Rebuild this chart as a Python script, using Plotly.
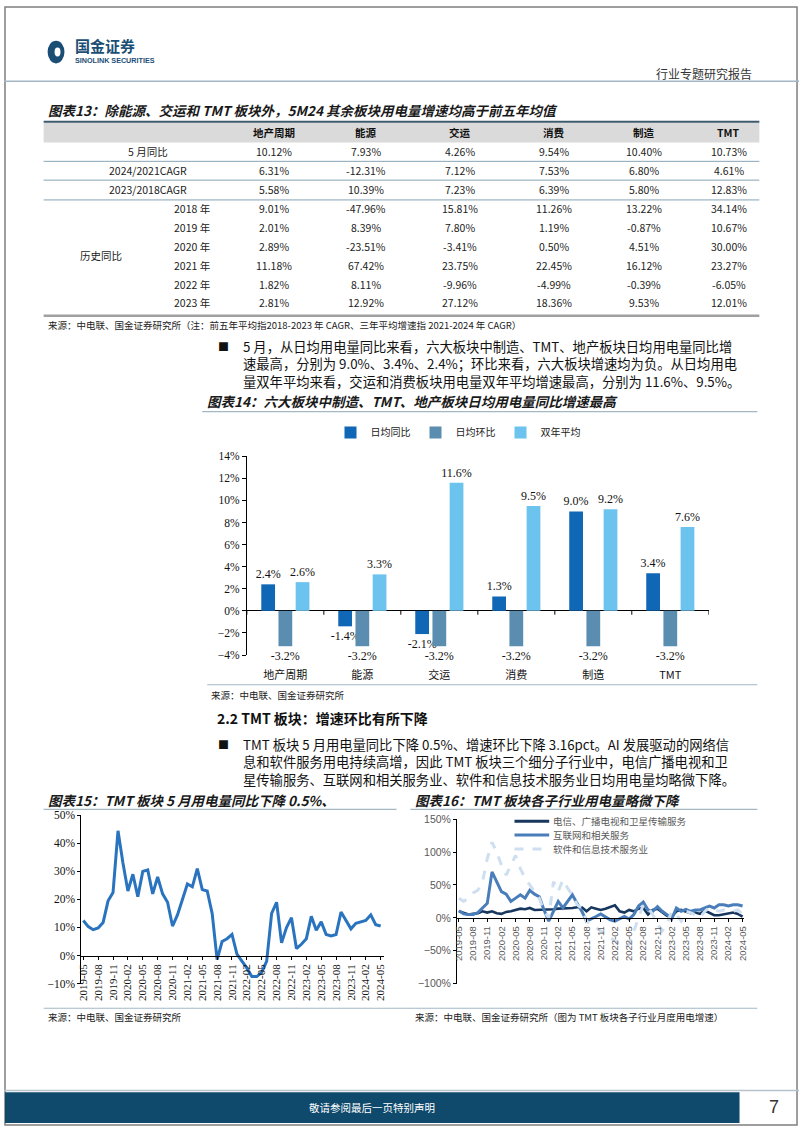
import plotly.graph_objects as go
import pandas as pd

W, H = 802, 1133
CJK = "Noto Sans CJK SC"
SERIF = "Liberation Serif"
SANS = "Liberation Sans"

# ---------------- data: table 13 ----------------
table_cols = ["地产周期", "能源", "交运", "消费", "制造", "TMT"]
row_labels_top = ["5 月同比", "2024/2021CAGR", "2023/2018CAGR"]
yoy_may = [10.12, 7.93, 4.26, 9.54, 10.40, 10.73]
cagr_24_21 = [6.31, -12.31, 7.12, 7.53, 6.80, 4.61]
cagr_23_18 = [5.58, 10.39, 7.23, 6.39, 5.80, 12.83]
hist_years = ["2018 年", "2019 年", "2020 年", "2021 年", "2022 年", "2023 年"]
hist_2018 = [9.01, -47.96, 15.81, 11.26, 13.22, 34.14]
hist_2019 = [2.01, 8.39, 7.80, 1.19, -0.87, 10.67]
hist_2020 = [2.89, -23.51, -3.41, 0.50, 4.51, 30.00]
hist_2021 = [11.18, 67.42, 23.75, 22.45, 16.12, 23.27]
hist_2022 = [1.82, 8.11, -9.96, -4.99, -0.39, -6.05]
hist_2023 = [2.81, 12.92, 27.12, 18.36, 9.53, 12.01]

# ---------------- data: chart 14 ----------------
sectors = ["地产周期", "能源", "交运", "消费", "制造", "TMT"]
daily_yoy = [2.4, -1.4, -2.1, 1.3, 9.0, 3.4]
daily_mom = [-3.2, -3.2, -3.2, -3.2, -3.2, -3.2]
two_year_avg = [2.6, 3.3, 11.6, 9.5, 9.2, 7.6]

# ---------------- data: chart 15 / 16 ----------------
months = list(pd.date_range("2019-05-01", periods=61, freq="MS").strftime("%Y-%m"))
tick_months = ["2019-05", "2019-08", "2019-11", "2020-02", "2020-05", "2020-08", "2020-11",
               "2021-02", "2021-05", "2021-08", "2021-11", "2022-02", "2022-05", "2022-08",
               "2022-11", "2023-02", "2023-05", "2023-08", "2023-11", "2024-02", "2024-05"]
tmt_yoy = [12.5, 10.3, 9.2, 9.8, 11.8, 19.5, 22.5, 44.5, 33, 23,
           29, 21, 30, 30.5, 22, 28, 22, 19, 10.5, 14.5,
           20, 25.5, 24.5, 31, 23.5, 23, 15, -1.5, 5, 6,
           7.5, 0.5, -2, -4.5, -7.5, -7.5, -6, -2, 15, 19,
           4.5, 10, 13.5, 2.5, 4, 6, 14, 9, 12, 7.5,
           7, 7.5, 15.5, 12.5, 9.5, 11.5, 12, 12.5, 14.5, 11,
           10.5]
telecom = [10, 7, 5, 6, 7, 10, 8, 10, 7, 6,
           9, 10, 12, 14, 13, 15, 12, 12, 12, 13,
           13, 14, 14, 15, 15, 16, 16, 10, 16, 14,
           12, 14, 17, 19, 10, 8, 12, 10, 14, 15,
           5, 12, 14, 8, 3, 2, 10, 12, 10, 7,
           8, 6, 11, 8, 4, 4, 5, 6, 8, 6,
           2]
internet = [11, 6, 5, 5, 8, 15, 22, 70, 55, 40,
            36, 25, 30, 35, 30, 42, 36, 32, 12, -5,
            10, 25, 15, 25, 35, 22, 10, -5, -2, 2,
            6, 2, -3, -5, -1, 2, -2, 5, 18, 24,
            12, 10, 17, 10, 5, -2, 15, 10, 13, 10,
            12, 12, 15, 18, 15, 20, 20, 18, 20, 20,
            18]
software = [30, 25, 30, 38, 42, 55, 90, 115, 100, 80,
            65, 80, 95, 75, 60, 50, 40, 30, 10, 0,
            55, 40, 58, 45, 35, 20, 15, -5, -10, -15,
            -20, -25, -30, -35, -40, -45, -40, -20, 0, 20,
            15, 5, -10, -20, -10, 10, 5, -5, 10, 8,
            5, 0, 10, 15, 12, 10, 12, 12, 10, 12,
            5]
sub_names = ["电信、广播电视和卫星传输服务", "互联网和相关服务", "软件和信息技术服务业"]

# ---------------- styles ----------------
C_YOY, C_MOM, C_AVG = "#0f67b5", "#5b8db0", "#6cc3ee"
C_LINE15 = "#2a74bf"
C_TEL, C_INT, C_SW = "#17375e", "#4a7ebb", "#cddff1"
NAVY = "#1b4e75"
RULE = "#a3b7c4"

ann = []
shapes = []


def T(x, y, s, size=11, color="#222", xa="left", ya="middle", fam=CJK, weight="normal",
      style="normal", bp=1):
    ann.append(dict(x=x / W, y=1 - y / H, xref="paper", yref="paper", text=s, showarrow=False,
                    xanchor=xa, yanchor=ya, borderpad=bp, align="left",
                    font=dict(family=fam, size=size, color=color, weight=weight, style=style)))


def L(x0, y0, x1, y1, color, width=1, dash="solid"):
    shapes.append(dict(type="line", xref="paper", yref="paper", x0=x0 / W, x1=x1 / W,
                       y0=1 - y0 / H, y1=1 - y1 / H, line=dict(color=color, width=width, dash=dash)))


def R(x0, y0, x1, y1, fill, line=None, lw=0):
    shapes.append(dict(type="rect", xref="paper", yref="paper", x0=x0 / W, x1=x1 / W,
                       y0=1 - y1 / H, y1=1 - y0 / H, fillcolor=fill,
                       line=dict(color=line or fill, width=lw), layer="below"))


def pct(v):
    return f"{v:.2f}%"


# ---------------- page frame / header ----------------
R(1, 1, 800, 1131, "rgba(0,0,0,0)", "#7f7f7f", 1.5)
shapes.append(dict(type="circle", xref="paper", yref="paper", x0=44 / W, x1=61 / W,
                   y0=1 - 58 / H, y1=1 - 35 / H, fillcolor=NAVY, line=dict(color=NAVY, width=0)))
shapes.append(dict(type="circle", xref="paper", yref="paper", x0=51 / W, x1=57 / W,
                   y0=1 - 51 / H, y1=1 - 42 / H, fillcolor="white", line=dict(color="white", width=0)))
T(71, 39.5, "国金证券", 15, NAVY, weight="bold", bp=0)
T(71, 55.5, "SINOLINK SECURITIES", 7.2, NAVY, fam=SANS, weight="bold", bp=0)
T(757, 68, "行业专题研究报告", 12, "#333", xa="right")
L(0, 76, 802, 76, RULE, 1.5)

# ---------------- table 13 ----------------
T(42, 105, "图表13：除能源、交运和 TMT 板块外，5M24 其余板块用电量增速均高于前五年均值", 13.5, "#1a1a1a",
  weight="bold", style="italic")
col_x = [272, 365, 460, 555, 646, 731]
R(40, 118, 762, 138, "#dadada")
L(40, 117, 762, 117, "#3d5a6c", 2)
for cx, name in zip(col_x, table_cols):
    T(cx, 128, name, 10.5, "#111", xa="center", weight="bold")
top_rows = [yoy_may, cagr_24_21, cagr_23_18]
top_y = [147, 166, 185]
for lab, vals, y in zip(row_labels_top, top_rows, top_y):
    T(145, y, lab, 10.5, "#222", xa="center")
    for cx, v in zip(col_x, vals):
        T(cx, y, pct(v), 10.5, "#222", xa="center")
for yl in [157, 176, 196]:
    L(40, yl, 762, yl, "#86a3b5", 1)
hist_rows = [hist_2018, hist_2019, hist_2020, hist_2021, hist_2022, hist_2023]
hist_y = [205, 224, 243, 262, 281, 300]
for lab, vals, y in zip(hist_years, hist_rows, hist_y):
    T(190, y, lab, 10.5, "#222", xa="center")
    for cx, v in zip(col_x, vals):
        T(cx, y, pct(v), 10.5, "#222", xa="center")
T(98, 252, "历史同比", 10.5, "#222", xa="center")
L(40, 313, 762, 313, "#a0a0a0", 2.5)
T(42, 322, "来源：中电联、国金证券研究所（注：前五年平均指2018-2023 年 CAGR、三年平均增速指 2021-2024 年 CAGR）",
  9.5, "#222")

# ---------------- paragraph 1 ----------------
T(214, 344, "■", 11, "#111")
para1 = ["5 月，从日均用电量同比来看，六大板块中制造、TMT、地产板块日均用电量同比增",
         "速最高，分别为 9.0%、3.4%、2.4%；环比来看，六大板块增速均为负。从日均用电",
         "量双年平均来看，交运和消费板块用电量双年平均增速最高，分别为 11.6%、9.5%。"]
T(240, 334, "<br>".join(para1), 13.3, "#111", ya="top", bp=0)

# ---------------- chart 14 ----------------
T(203, 399, "图表14：六大板块中制造、TMT、地产板块日均用电量同比增速最高", 13.5, "#1a1a1a",
  weight="bold", style="italic")
L(200, 410, 760, 410, RULE, 1.2)
L(205, 686, 760, 686, RULE, 1.2)
T(207, 696, "来源：中电联、国金证券研究所", 9.5, "#222")

traces = []
for name, vals, col in [("日均同比", daily_yoy, C_YOY), ("日均环比", daily_mom, C_MOM),
                        ("双年平均", two_year_avg, C_AVG)]:
    traces.append(go.Bar(name=name, x=sectors, y=vals, marker=dict(color=col, line=dict(width=0)),
                         texttemplate="%{y:.1f}%", textposition="outside", constraintext="none",
                         textfont=dict(family=SERIF, size=12, color="#111"), cliponaxis=False,
                         xaxis="x", yaxis="y", legend="legend"))

for k in range(7):
    shapes.append(dict(type="line", xref="x", yref="y", x0=k - 0.5, x1=k - 0.5, y0=0, y1=-0.35,
                       line=dict(color="#000", width=1)))

# ---------------- section 2.2 ----------------
T(213, 720, "2.2 TMT 板块：增速环比有所下降", 14, "#111", weight="bold")
T(214, 746, "■", 11, "#111")
para2 = ["TMT 板块 5 月用电量同比下降 0.5%、增速环比下降 3.16pct。AI 发展驱动的网络信",
         "息和软件服务用电持续高增，因此 TMT 板块三个细分子行业中，电信广播电视和卫",
         "星传输服务、互联网和相关服务业、软件和信息技术服务业日均用电量均略微下降。"]
T(240, 736, "<br>".join(para2), 13.3, "#111", ya="top", bp=0)

# ---------------- chart 15 ----------------
T(42, 803, "图表15：TMT 板块 5 月用电量同比下降 0.5%、", 13.5, "#1a1a1a", weight="bold", style="italic")
L(40, 812, 396, 812, RULE, 1.2)
traces.append(go.Scatter(x=months, y=tmt_yoy, mode="lines", line=dict(color=C_LINE15, width=3),
                         xaxis="x2", yaxis="y2", showlegend=False))

# ---------------- chart 16 ----------------
T(413, 803, "图表16：TMT 板块各子行业用电量略微下降", 13.5, "#1a1a1a", weight="bold", style="italic")
L(410, 812, 760, 812, RULE, 1.2)
for name, vals, col, dash, wd in [(sub_names[0], telecom, C_TEL, "solid", 2.6),
                                  (sub_names[1], internet, C_INT, "solid", 3),
                                  (sub_names[2], software, C_SW, "dash", 3)]:
    traces.append(go.Scatter(x=months, y=vals, mode="lines", name=name,
                             line=dict(color=col, width=wd, dash=dash),
                             xaxis="x3", yaxis="y3", showlegend=False))
leg_y = [824, 838, 852]
for (name, col, dash), y in zip([(sub_names[0], C_TEL, "solid"), (sub_names[1], C_INT, "solid"),
                                 (sub_names[2], C_SW, "dash")], leg_y):
    L(515, y, 550, y, col, 3, dash)
    T(553, y, name, 9.5, "#595959", bp=0)

# ---------------- sources / footer ----------------
L(40, 1013, 760, 1013, RULE, 1.2)
T(42, 1022, "来源：中电联、国金证券研究所", 9.5, "#222")
T(413, 1022, "来源：中电联、国金证券研究所（图为 TMT 板块各子行业月度用电增速）", 9.5, "#222")
L(0, 1096, 802, 1096, "#b7c3cb", 1.5)
R(1, 1098, 742, 1129, "#0f4a6c")
T(371, 1113, "敬请参阅最后一页特别声明", 10.5, "white", xa="center")
T(777, 1113, "7", 18, "#333", xa="center", fam=SANS)

fig = go.Figure(data=traces)
fig.update_layout(
    width=W, height=H, autosize=False, margin=dict(l=0, r=0, t=0, b=0, pad=0),
    paper_bgcolor="white", plot_bgcolor="white",
    barmode="group", bargap=0.33, bargroupgap=0.2,
    showlegend=True,
    legend=dict(orientation="h", x=458 / W, xanchor="center", y=1 - 431 / H, yanchor="middle",
                font=dict(family=CJK, size=10, color="#222"), itemwidth=30,
                bgcolor="rgba(0,0,0,0)", traceorder="normal"),
    xaxis=dict(domain=[245 / W, 711 / W], range=[-0.5, 5.5], anchor="y", type="category",
               showline=False, ticks="", showgrid=False, zeroline=False, ticklabelstandoff=12,
               tickfont=dict(family=CJK, size=11, color="#111")),
    yaxis=dict(domain=[1 - 656 / H, 1 - 455 / H], range=[-4, 14], dtick=2, ticksuffix="%",
               anchor="x", showline=True, linecolor="#000", linewidth=1, ticks="outside",
               ticklen=4, tickcolor="#000", showgrid=False, zeroline=True, zerolinecolor="#000",
               zerolinewidth=1.3, tickfont=dict(family=SERIF, size=11.5, color="#111")),
    xaxis2=dict(domain=[78 / W, 383 / W], range=[-0.4, 60.6], type="category",
                anchor="free", position=1 - 960 / H,
                tickmode="array", tickvals=tick_months, ticktext=tick_months, tickangle=-90,
                showline=True, linecolor="#000", linewidth=1.2, ticks="outside", ticklen=3,
                tickcolor="#000", showgrid=False, zeroline=False,
                tickfont=dict(family=SERIF, size=11, color="#111")),
    yaxis2=dict(domain=[1 - 988 / H, 1 - 818 / H], range=[-10, 50], dtick=10, ticksuffix="%",
                anchor="x2", showline=True, linecolor="#000", linewidth=1, ticks="outside",
                ticklen=3, tickcolor="#000", showgrid=False, zeroline=False,
                tickfont=dict(family=SERIF, size=11.5, color="#111")),
    xaxis3=dict(domain=[457 / W, 747 / W], range=[-0.4, 60.4], type="category",
                anchor="free", position=1 - 922 / H,
                tickmode="array", tickvals=tick_months, ticktext=tick_months, tickangle=-90,
                showline=True, linecolor="#000", linewidth=1.2, ticks="outside", ticklen=3,
                tickcolor="#000", showgrid=False, zeroline=False,
                tickfont=dict(family=SANS, size=9.5, color="#595959")),
    yaxis3=dict(domain=[1 - 988 / H, 1 - 822 / H], range=[-100, 150], dtick=50, ticksuffix="%",
                anchor="x3", showline=True, linecolor="#000", linewidth=1, ticks="outside",
                ticklen=3, tickcolor="#000", showgrid=False, zeroline=False,
                tickfont=dict(family=SANS, size=10.5, color="#595959")),
    annotations=ann, shapes=shapes,
)
fig.write_html("out.html")
